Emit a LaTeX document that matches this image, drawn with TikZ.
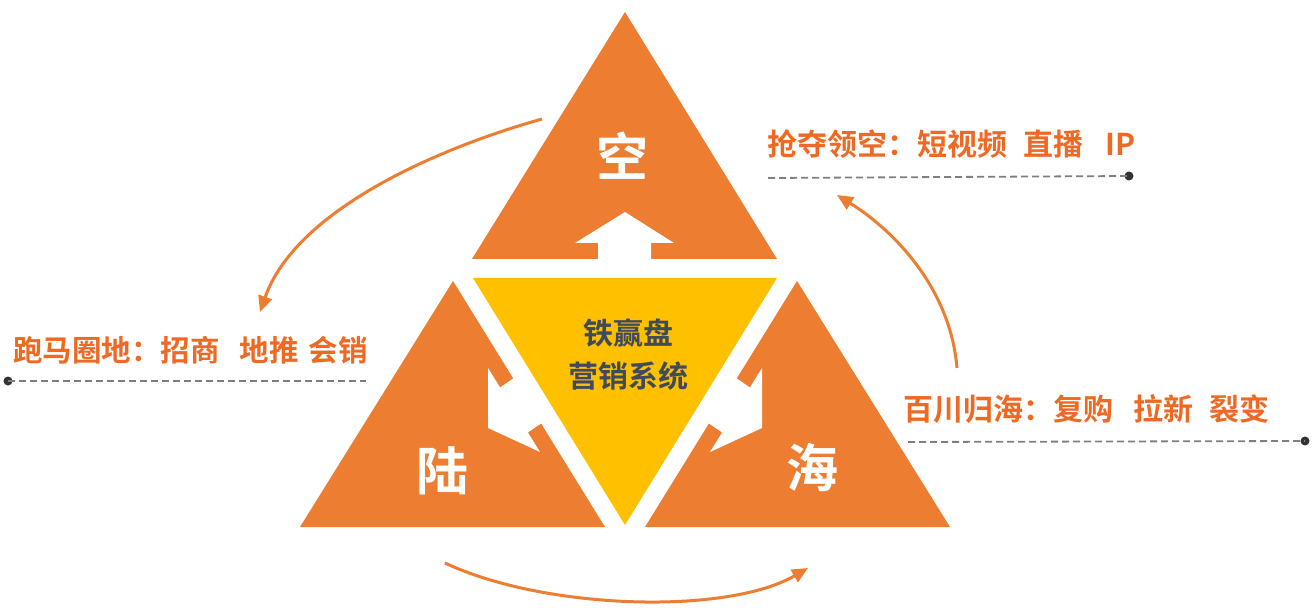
\documentclass[tikz,border=0pt]{standalone}
\usepackage{fontspec}
\newfontfamily\cjk{Noto Sans CJK SC}[BoldFont={Noto Sans CJK SC Bold}]
\usetikzlibrary{arrows.meta}
\definecolor{tri}{HTML}{ED7D31}
\definecolor{yel}{HTML}{FFC000}
\definecolor{lbl}{HTML}{EE6A24}
\definecolor{core}{HTML}{3F4B5B}
\definecolor{dashc}{HTML}{7F7F7F}
\definecolor{dotc}{HTML}{333333}
\tikzset{
  trishape/.style={fill=tri, draw=none},
  coreshape/.style={fill=yel, draw=none},
  whitearrow/.style={fill=white, draw=none},
  bigchar/.style={text=white, inner sep=0pt, font=\cjk\bfseries\fontsize{52}{56}\selectfont},
  corelabel/.style={text=core, inner sep=0pt, align=center, font=\cjk\bfseries\fontsize{30}{43}\selectfont},
  sidelabel/.style={text=lbl, inner sep=0pt, anchor=west, font=\cjk\bfseries\fontsize{30}{34}\selectfont},
  enddot/.style={circle, fill=dotc, inner sep=0pt, minimum size=9pt},
  leader/.style={draw=dashc, line width=1.8pt, dash pattern=on 7pt off 4pt},
  cycle arrow/.style={draw=tri, line width=3pt, -{Triangle[length=16pt,width=14pt]}}
}
\begin{document}
\begin{tikzpicture}[x=1pt, y=-1pt]
\useasboundingbox (0,0) rectangle (1315,612);
% triangles
\fill[trishape] (625,12) -- (777,259) -- (472,259) -- cycle;
\fill[coreshape] (473,278) -- (777,278) -- (625,525) -- cycle;
\fill[trishape] (453,281) -- (605,527) -- (300,527) -- cycle;
\fill[trishape] (797,281) -- (950,527) -- (645,527) -- cycle;
% white arrows
\fill[whitearrow] (625,212) -- (674,243) -- (651,243) -- (651,268) -- (598,268) -- (598,243) -- (575,243) -- cycle;
\fill[whitearrow] (488,428) -- (540,452) -- (527.9,432.5) -- (548.5,418.3) -- (520.7,373.3) -- (500.1,387.5) -- (488,368) -- cycle;
\fill[whitearrow] (762,428) -- (710,452) -- (722.1,432.5) -- (701.5,418.3) -- (729.3,373.3) -- (749.9,387.5) -- (762,368) -- cycle;
% labels
\node[bigchar] (kong) at (622,156) {空};
\node[bigchar] (lu) at (442,471) {陆};
\node[bigchar] (hai) at (812,468) {海};
\node[corelabel] (core) at (628,355) {铁赢盘\\营销系统};
% side labels
\node[sidelabel, font=\cjk\bfseries\fontsize{29.5}{34}\selectfont] (land) at (13,350) {跑马圈地：招商\hspace{20pt}地推\hspace{10pt}会销};
\node[sidelabel] (sky) at (767,144) {抢夺领空：短视频\hspace{16pt}直播\hspace{22pt}IP};
\node[sidelabel] (sea) at (903,409) {百川归海：复购\hspace{20pt}拉新\hspace{16pt}裂变};
% leader lines
\node[enddot] (landdot) at (8,381) {};
\coordinate (landend) at (366,381);
\draw[leader] (landdot.center) -- (landend);
\node[enddot] (skydot) at (1129,176) {};
\coordinate (skyend) at (768,178);
\draw[leader] (skyend) -- (skydot.center);
\node[enddot] (seadot) at (1305,441) {};
\coordinate (seaend) at (908,442);
\draw[leader] (seaend) -- (seadot.center);
% cycle arrows
\coordinate (a1s) at (542,119);
\coordinate (a1e) at (260,312);
\draw[cycle arrow] (a1s) .. controls (432,150) and (295,212) .. (a1e);
\coordinate (a2s) at (445,563);
\coordinate (a2e) at (808,568);
\draw[cycle arrow] (a2s) .. controls (545,610) and (727,615) .. (a2e);
\coordinate (a3s) at (957,368);
\coordinate (a3e) at (837,195);
\draw[cycle arrow] (a3s) .. controls (950,285) and (890,228) .. (a3e);
\end{tikzpicture}
\end{document}
